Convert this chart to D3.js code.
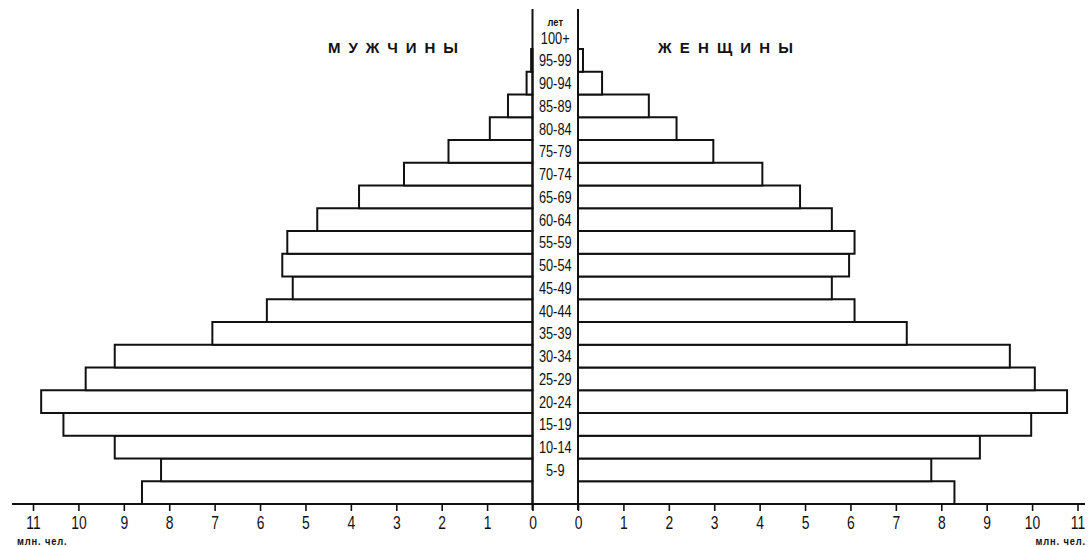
<!DOCTYPE html>
<html lang="ru">
<head>
    <meta charset="UTF-8">
    <title>Возрастная пирамида</title>
    <style>
        html, body { margin: 0; padding: 0; background: #fff; }
        svg { display: block; }
    </style>
</head>
<body>
<svg></svg>
<script src="https://cdn.jsdelivr.net/npm/d3@7/dist/d3.min.js"></script>
<script>
    // age groups, bottom to top; the lowest group has no printed label
    const ages = ["0-4", "5-9", "10-14", "15-19", "20-24", "25-29", "30-34", "35-39", "40-44",
        "45-49", "50-54", "55-59", "60-64", "65-69", "70-74", "75-79", "80-84", "85-89",
        "90-94", "95-99", "100+"];
    const ageLabels = ["", "5-9", "10-14", "15-19", "20-24", "25-29", "30-34", "35-39", "40-44",
        "45-49", "50-54", "55-59", "60-64", "65-69", "70-74", "75-79", "80-84", "85-89",
        "90-94", "95-99", "100+"];
    // millions of people
    const men = [8.60, 8.18, 9.20, 10.33, 10.82, 9.84, 9.20, 7.05, 5.85,
        5.28, 5.51, 5.40, 4.74, 3.82, 2.83, 1.85, 0.94, 0.54, 0.13, 0.03, 0];
    const women = [8.29, 7.78, 8.85, 9.98, 10.77, 10.06, 9.51, 7.24, 6.09,
        5.59, 5.97, 6.09, 5.59, 4.89, 4.06, 2.98, 2.17, 1.56, 0.53, 0.11, 0];
    const ticks = [0, 1, 2, 3, 4, 5, 6, 7, 8, 9, 10, 11];

    let width = 1089,
        height = 547,
        axisY = 504,
        rowH = 22.75,
        ink = "#111";

    // the print uses a tall narrow face; squeeze Liberation Sans sideways
    const face = "'Liberation Sans', Arial, sans-serif";

    const xL = d3.scaleLinear().domain([0, 11]).range([532.5, 33]);
    const xR = d3.scaleLinear().domain([0, 11]).range([578, 1077.5]);
    const y = d3.scaleBand()
        .domain(ages)
        .range([axisY, axisY - rowH * ages.length])
        .padding(0);

    const svg = d3.select("svg")
        .attr("width", width)
        .attr("height", height)
        .attr("viewBox", `0 0 ${width} ${height}`);

    // bars: left side (men) and right side (women)
    svg.append("g")
        .attr("fill", "#fff")
        .attr("stroke", ink)
        .attr("stroke-width", 2)
        .selectAll("rect")
        .data(ages.map((a, i) => ({age: a, v: men[i]})).filter(d => d.v > 0))
        .join("rect")
        .attr("x", d => xL(d.v))
        .attr("y", d => y(d.age))
        .attr("width", d => xL(0) - xL(d.v))
        .attr("height", y.bandwidth());

    svg.append("g")
        .attr("fill", "#fff")
        .attr("stroke", ink)
        .attr("stroke-width", 2)
        .selectAll("rect")
        .data(ages.map((a, i) => ({age: a, v: women[i]})).filter(d => d.v > 0))
        .join("rect")
        .attr("x", xR(0))
        .attr("y", d => y(d.age))
        .attr("width", d => xR(d.v) - xR(0))
        .attr("height", y.bandwidth());

    // the central column that holds the age labels
    svg.append("g")
        .attr("stroke", ink)
        .attr("stroke-width", 2)
        .selectAll("line")
        .data([xL(0), xR(0)])
        .join("line")
        .attr("x1", d => d).attr("x2", d => d)
        .attr("y1", 9).attr("y2", axisY + 6);

    const cx = (xL(0) + xR(0)) / 2;

    svg.append("g")
        .attr("text-anchor", "middle")
        .style("font", `16px ${face}`)
        .attr("fill", ink)
        .selectAll("text")
        .data(ages.map((a, i) => ({age: a, label: ageLabels[i]})))
        .join("text")
        .attr("transform", d => `translate(${cx},${y(d.age) + y.bandwidth() / 2 + 6}) scale(0.8,1)`)
        .text(d => d.label);

    svg.append("text")
        .attr("transform", `translate(${cx},26) scale(0.85,1)`)
        .attr("text-anchor", "middle")
        .style("font", `bold 11px ${face}`)
        .attr("fill", ink)
        .text("лет");

    // bottom scales
    svg.append("line")
        .attr("x1", 12).attr("x2", width - 4)
        .attr("y1", axisY).attr("y2", axisY)
        .attr("stroke", ink)
        .attr("stroke-width", 2);

    const axisL = d3.axisBottom(xL).tickValues(ticks).tickSize(7).tickPadding(5).tickFormat(d3.format("d"));
    const axisR = d3.axisBottom(xR).tickValues(ticks).tickSize(7).tickPadding(5).tickFormat(d3.format("d"));

    [axisL, axisR].forEach(ax => {
        const g = svg.append("g")
            .attr("transform", `translate(0,${axisY})`)
            .call(ax);
        g.select(".domain").remove();
        g.selectAll(".tick line").attr("stroke", ink).attr("stroke-width", 1.6);
        g.selectAll(".tick text")
            .attr("fill", ink)
            .attr("transform", "scale(0.75,1)")
            .style("font", `18.5px ${face}`);
    });

    // units
    const unit = (x0, anchor) => svg.append("text")
        .attr("transform", `translate(${x0},545) scale(0.85,1)`)
        .attr("text-anchor", anchor)
        .style("font", `bold 11px ${face}`)
        .attr("fill", ink)
        .attr("letter-spacing", 1)
        .text("млн. чел.");

    unit(17, "start");
    unit(1086, "end");

    // side titles
    const title = (text, x0, len) => svg.append("text")
        .attr("x", x0).attr("y", 53)
        .attr("textLength", len)
        .attr("lengthAdjust", "spacing")
        .style("font", `bold 15px ${face}`)
        .attr("fill", ink)
        .text(text);

    title("М У Ж Ч И Н Ы", 328, 130);
    title("Ж Е Н Щ И Н Ы", 658, 135);
</script>
</body>
</html>
